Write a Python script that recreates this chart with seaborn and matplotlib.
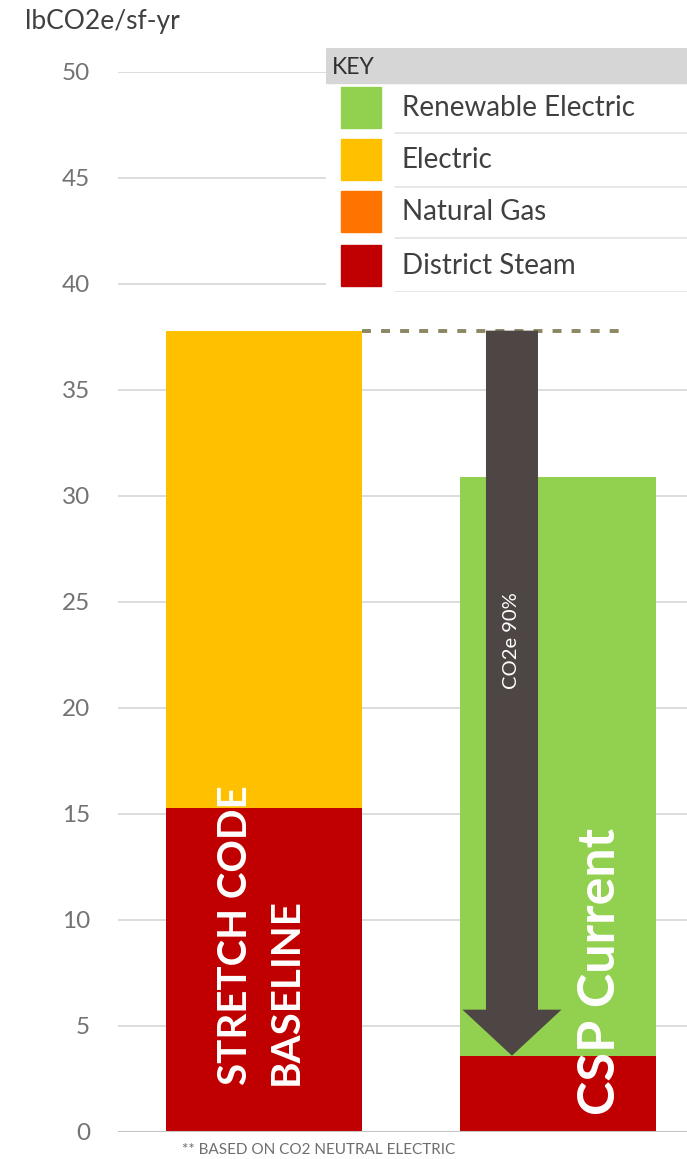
import matplotlib
matplotlib.use("Agg")
import matplotlib.pyplot as plt
import seaborn as sns
import pandas as pd
from matplotlib.patches import FancyArrow, Rectangle

# ---- data -------------------------------------------------------------
scenarios = ["STRETCH CODE\nBASELINE", "CSP Current"]
district_steam = [15.3, 3.6]
natural_gas = [0.0, 0.0]
electric = [22.5, 0.0]
renewable_electric = [0.0, 27.3]

legend_sources = ["Renewable Electric", "Electric", "Natural Gas", "District Steam"]
source_colors = {"Renewable Electric": "#92D050", "Electric": "#FFC000",
                 "Natural Gas": "#FF7300", "District Steam": "#C00000"}
y_ticks = [0, 5, 10, 15, 20, 25, 30, 35, 40, 45, 50]
unit_label = "lbCO2e/sf-yr"
reduction_label = "CO2e 90%"
footnote = "** BASED ON CO2 NEUTRAL ELECTRIC"

# ---- figure -----------------------------------------------------------
W, H = 687, 1159
sns.set_theme(style="white")
plt.rcParams["font.family"] = ["Lato", "DejaVu Sans"]

fig = plt.figure(figsize=(W / 100, H / 100), dpi=100)
fig.patch.set_facecolor("white")

def px(x0, y0, x1, y1):
    """Figure-fraction rectangle from pixel edges (top-left origin)."""
    return [x0 / W, 1 - y1 / H, (x1 - x0) / W, (y1 - y0) / H]

ax = fig.add_axes(px(118, 72, 687, 1132))

df = pd.DataFrame({
    "scenario": scenarios,
    "District Steam": district_steam,
    "Natural Gas": natural_gas,
    "Electric": electric,
    "Renewable Electric": renewable_electric,
})
stack_order = ["District Steam", "Natural Gas", "Electric", "Renewable Electric"]
cum = df[stack_order].cumsum(axis=1)
cum["scenario"] = df["scenario"]

bar_w = 0.667
for src in reversed(stack_order):
    sns.barplot(data=cum, x="scenario", y=src, order=scenarios,
                color=source_colors[src], saturation=1, width=bar_w,
                linewidth=0, edgecolor="none", ax=ax, zorder=2)

ax.set_xlim(-0.497, 1.439)
ax.set_ylim(0, 50)
ax.set_yticks(y_ticks)
ax.set_yticklabels([str(t) for t in y_ticks])
ax.set_xticks([])
ax.set_xlabel("")
ax.set_ylabel("")
for s in ax.spines.values():
    s.set_visible(False)
ax.tick_params(axis="y", length=0, pad=20, labelsize=17.5, labelcolor="#737373")
for t in y_ticks[1:]:
    ax.axhline(t, color="#dadada", lw=1.3, zorder=0)
ax.axhline(0, color="#c4c4c4", lw=1.5, zorder=3)

baseline_total = cum.loc[0, "Renewable Electric"]
current_steam = df.loc[1, "District Steam"]

# dashed reference at baseline level
ax.plot([bar_w / 2, 1.218], [baseline_total, baseline_total],
        color="#8B8763", lw=2.8, linestyle=(0, (2.3, 2.6)), zorder=3,
        solid_capstyle="butt", dash_capstyle="butt")

# reduction arrow
arrow_x = 0.8435
ax.add_patch(FancyArrow(arrow_x, baseline_total, 0, -(baseline_total - current_steam),
                        width=0.177, head_width=0.337, head_length=2.17,
                        length_includes_head=True, color="#4E4644", lw=0, zorder=4))
ax.text(arrow_x, 23.2, reduction_label, rotation=90, color="white",
        fontsize=14.5, ha="center", va="center", zorder=5)

# scenario labels on the bars
ax.text(-0.01, 2.2, scenarios[0], rotation=90, rotation_mode="anchor",
        ha="left", va="center", color="white", fontsize=29, fontweight="bold",
        linespacing=1.45, zorder=5)
ax.text(1.143, 0.8, scenarios[1], rotation=90, rotation_mode="anchor",
        ha="left", va="center", color="white", fontsize=37.5, fontweight="bold",
        zorder=5)

# axis unit and footnote
fig.text(25 / W, 1 - 22 / H, unit_label, fontsize=19, color="#404040",
         ha="left", va="center")
fig.text(182 / W, 1 - 1150 / H, footnote, fontsize=11, color="#6e6e6e",
         ha="left", va="center")

# ---- key --------------------------------------------------------------
lg = fig.add_axes(px(326, 48, 687, 292), zorder=10)
lg.set_facecolor("white")
lg.set_xlim(0, 361)
lg.set_ylim(244, 0)
lg.axis("off")
lg.add_patch(Rectangle((0, 0), 361, 244, color="white", zorder=0))
lg.add_patch(Rectangle((0, 0), 361, 35, color="#D6D6D6", zorder=1))
lg.text(6, 19, "KEY", fontsize=16.5, color="#303030", va="center", ha="left")
row_top = [39, 91, 143, 197]
row_sep = [85, 139, 190, 244]
for name, top, sep in zip(legend_sources, row_top, row_sep):
    lg.add_patch(Rectangle((15, top), 40, 41, color=source_colors[name], zorder=2))
    lg.text(76, top + 21, name, fontsize=20, color="#404040", va="center", ha="left")
    lg.plot([69, 361], [sep, sep], color="#e3e3e3", lw=1.2, zorder=1)

fig.savefig("out.png", dpi=100, facecolor="white")
